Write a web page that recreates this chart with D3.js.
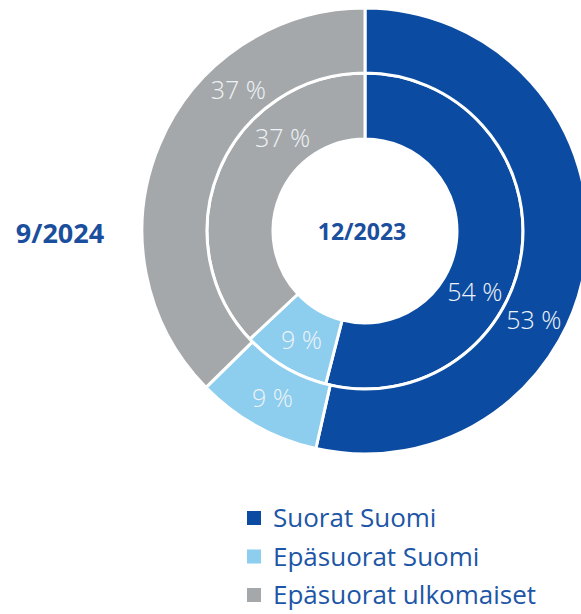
<!DOCTYPE html>
<html>
<head>
<meta charset="utf-8">
<script src="https://cdn.jsdelivr.net/npm/d3@7"></script>
<style>
  body { margin: 0; background: #fff; }
  svg { display: block; font-family: "Open Sans", sans-serif; }
</style>
</head>
<body>
<svg id="chart" width="581" height="614"></svg>
<script>
// data
var categories = ["Suorat Suomi", "Epäsuorat Suomi", "Epäsuorat ulkomaiset"];
var values2023 = [54, 9, 37];   // inner ring, 12/2023
var values2024 = [53, 9, 37];   // outer ring, 9/2024
var ringLabels = ["12/2023", "9/2024"];

var colors = ["#0b4ca2", "#8dcdee", "#a4a8aa"];
// where inside each slice the label sits (fraction of slice angle)
var labelFrac = [0.61, 0.5, 0.69];

var svg = d3.select("#chart");
var cx = 365, cy = 231;
var r0 = 92, r1 = 158, r2 = 223;

var g = svg.append("g").attr("transform", "translate(" + cx + "," + cy + ")");

var pie = d3.pie().sort(null).value(function(d){ return d; });

var color = d3.scaleOrdinal().domain(categories).range(colors);

function ring(values, inner, outer, cls) {
  var arcs = pie(values);
  var arc = d3.arc().innerRadius(inner).outerRadius(outer);
  var rg = g.append("g").attr("class", cls);

  rg.selectAll("path")
    .data(arcs)
    .enter()
    .append("path")
    .attr("d", arc)
    .attr("fill", function(d, i){ return color(categories[i]); })
    .attr("stroke", "#fff")
    .attr("stroke-width", 3);

  var mid = (inner + outer) / 2;
  rg.selectAll("text")
    .data(arcs)
    .enter()
    .append("text")
    .attr("x", function(d, i){
      var a = d.startAngle + (d.endAngle - d.startAngle) * labelFrac[i];
      return Math.sin(a) * mid;
    })
    .attr("y", function(d, i){
      var a = d.startAngle + (d.endAngle - d.startAngle) * labelFrac[i];
      return -Math.cos(a) * mid;
    })
    .attr("text-anchor", "middle")
    .attr("dominant-baseline", "central")
    .attr("fill", "#eef3f8")
    .style("font-size", "25px")
    .style("font-weight", 300)
    .text(function(d){ return d.data + " %"; });
}

ring(values2023, r0, r1, "inner");
ring(values2024, r1, r2, "outer");

// ring titles
g.append("text")
  .attr("x", -3)
  .attr("y", 0)
  .attr("text-anchor", "middle")
  .attr("dominant-baseline", "central")
  .attr("fill", "#1b4f9e")
  .style("font-size", "23px")
  .style("font-weight", "bold")
  .text(ringLabels[0]);

svg.append("text")
  .attr("x", 60)
  .attr("y", cy + 1)
  .attr("text-anchor", "middle")
  .attr("dominant-baseline", "central")
  .attr("fill", "#1b4f9e")
  .style("font-size", "27px")
  .style("font-weight", "bold")
  .text(ringLabels[1]);

// legend
var legend = svg.append("g").attr("transform", "translate(247,517)");
var rows = legend.selectAll("g")
  .data(categories)
  .enter()
  .append("g")
  .attr("transform", function(d, i){ return "translate(0," + (i * 38.5) + ")"; });

rows.append("rect")
  .attr("x", 0)
  .attr("y", -6)
  .attr("width", 14)
  .attr("height", 14)
  .attr("fill", function(d){ return color(d); });

rows.append("text")
  .attr("x", 26)
  .attr("y", 0)
  .attr("dominant-baseline", "central")
  .attr("fill", "#1d56a6")
  .style("font-size", "26px")
  .text(function(d){ return d; });
</script>
</body>
</html>
